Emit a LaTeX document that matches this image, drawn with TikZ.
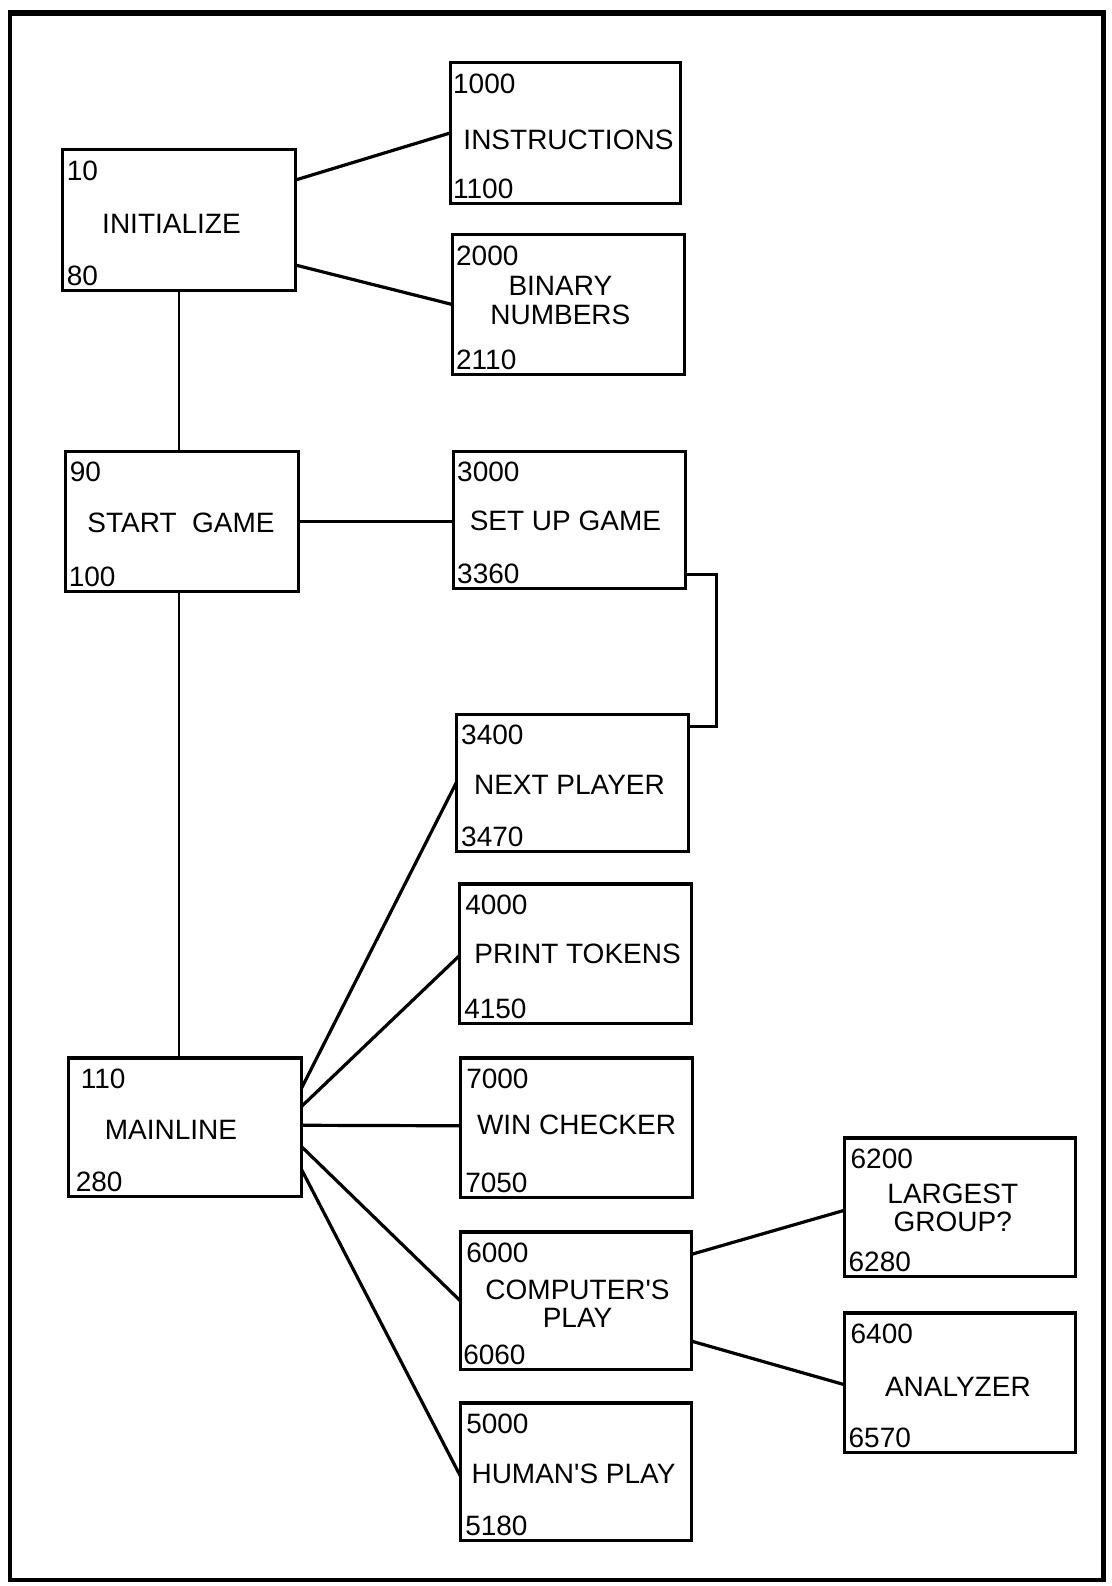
\documentclass[tikz,border=0pt]{standalone}
\usepackage{fontspec}
\setmainfont{Liberation Sans}
\usetikzlibrary{calc}
\newcommand\lblfont{\fontsize{28}{28.5}\selectfont}
\tikzset{
  box/.style={draw, rectangle, line width=3.2pt, inner sep=0pt, outer sep=0pt},
  num/.style={inner sep=0pt, outer sep=0pt, font=\lblfont},
  lab/.style={inner sep=0pt, outer sep=0pt, font=\lblfont, align=center},
  conn/.style={line width=3.2pt},
  vconn/.style={line width=2.4pt},
  frameline/.style={line width=4pt}
}
\newcommand\blk[9]{%
  \node[box, minimum width=#4*1.0118pt, minimum height=#5*1.0118pt] (#1) at (#2,#3) {};
  \node[num, anchor=north west] (#1-top) at ($(#1.north west)+(#8,11)$) {#6};
  \node[num, anchor=base west] (#1-bot) at ($(#1.south west)+(#9,-5)$) {#7};
}
\begin{document}
\begin{tikzpicture}[x=1.0118pt, y=-1.0118pt]
\useasboundingbox (0,0) rectangle (1099,1568);
% frame
\draw[frameline] (10,13) rectangle (1091,1562);
\draw[line width=6pt] (8,13) -- (1093,13);
\draw[line width=5pt] (1091,13) -- (1091,1562);

% boxes
\blk{init}{177}{217.5}{230}{139}{10}{80}{4}{4}
\blk{instr}{559}{131.5}{228}{139}{1000}{1100}{3}{3}
\blk{bin}{562}{301}{230}{138}{2000}{2110}{4}{4}
\blk{start}{180}{515.5}{230}{139}{90}{100}{4}{3}
\blk{setup}{563}{514}{230}{136}{3000}{3360}{4}{4}
\blk{next}{566}{774}{230}{136}{3400}{3470}{5}{5}
\blk{print}{569}{943}{230}{138}{4000}{4150}{6}{5}
\blk{mainl}{183}{1114.5}{230}{137}{110}{280}{12}{7}
\blk{win}{570}{1115}{230}{138}{7000}{7050}{6}{5}
\blk{comp}{569.5}{1286}{229}{136}{6000}{6060}{6}{3}
\blk{human}{569.5}{1455}{229}{136}{5000}{5180}{6}{5}
\blk{largest}{949}{1193.5}{228}{137}{6200}{6280}{6}{4}
\blk{anal}{949}{1367}{228}{138}{6400}{6570}{6}{4}

% labels
\node[lab] (init-l) at (169.5,221) {INITIALIZE};
\node[lab] (instr-l) at (562,138) {INSTRUCTIONS};
\node[lab] (bin-l) at (554,297) {BINARY\\NUMBERS};
\node[lab] (start-l) at (179,517) {START\ \ GAME};
\node[lab] (setup-l) at (559,515) {SET UP GAME};
\node[lab] (next-l) at (563,776) {NEXT PLAYER};
\node[lab] (print-l) at (571,943) {PRINT TOKENS};
\node[lab] (mainl-l) at (169,1117) {MAINLINE};
\node[lab] (win-l) at (570,1112) {WIN CHECKER};
\node[lab] (comp-l) at (571,1289) {COMPUTER\textquotesingle S\\PLAY};
\node[lab] (human-l) at (567,1457) {HUMAN\textquotesingle S PLAY};
\node[lab] (largest-l) at (942,1194) {LARGEST\\GROUP?};
\node[lab] (anal-l) at (947,1371) {ANALYZER};

% connectors
\draw[conn] ($(init.north east)+(0,30)$) -- (instr.west);
\draw[conn] ($(init.south east)+(0,-25)$) -- (bin.west);
\draw[vconn] (init.south) -- (init.south |- start.north);
\draw[vconn] (init.south |- start.south) -- (init.south |- mainl.north);
\draw[conn] (start.east) -- (start.east -| setup.west);
\draw[conn] ($(setup.south east)+(0,-14)$) -| ($(next.north east)+(27,12)$) -- ($(next.north east)+(0,12)$);
\draw[conn] ($(mainl.north east)+(0,30)$) -- (next.west);
\draw[conn] ($(mainl.north east)+(0,48)$) -- ($(print.west)+(0,2)$);
\draw[conn] ($(mainl.east)+(0,-2)$) -- ($(win.west)+(0,-2)$);
\draw[conn] ($(mainl.east)+(0,19)$) -- (comp.west);
\draw[conn] ($(mainl.south east)+(0,-27)$) -- ($(human.west)+(0,4)$);
\draw[conn] ($(comp.north east)+(0,22)$) -- ($(largest.west)+(0,3)$);
\draw[conn] ($(comp.south east)+(0,-28)$) -- ($(anal.west)+(0,2)$);
\end{tikzpicture}
\end{document}
